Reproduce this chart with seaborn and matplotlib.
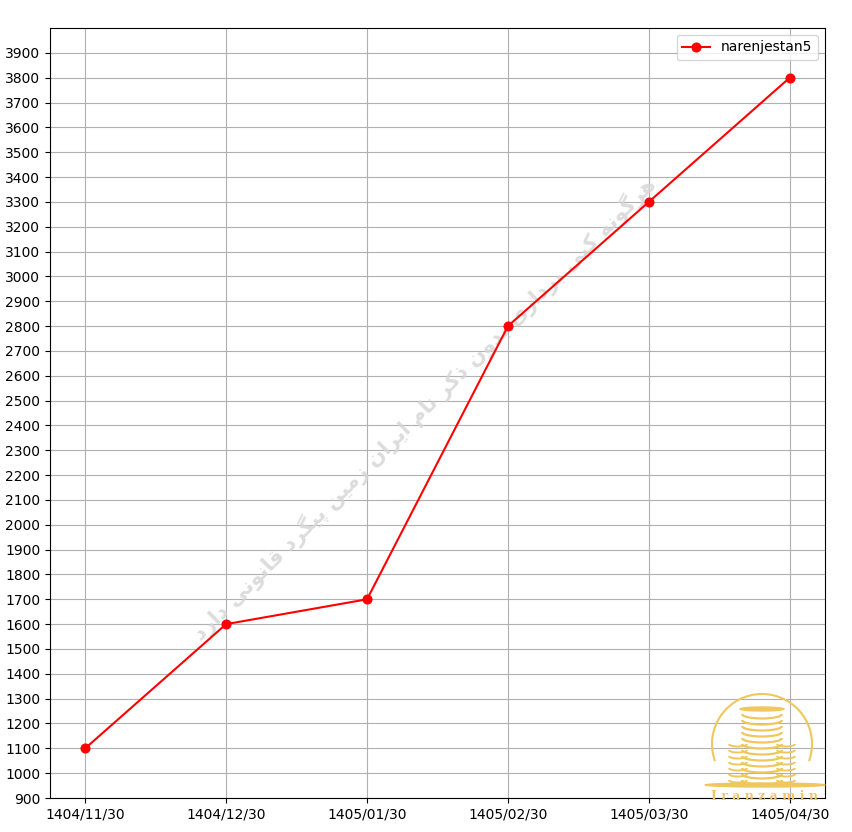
import matplotlib
matplotlib.use("Agg")
import matplotlib.pyplot as plt
import seaborn as sns
import pandas as pd
import numpy as np
from matplotlib.patches import Circle, Arc, Ellipse, Rectangle

dates = ["1404/11/30", "1404/12/30", "1405/01/30", "1405/02/30", "1405/03/30", "1405/04/30"]
prices = [1100, 1600, 1700, 2800, 3300, 3800]
series_name = "narenjestan5"
yticks = list(range(900, 4000, 100))
watermark = "هرگونه کپی برداری بدون ذکر نام ایران زمین پیگرد قانونی دارد"

# --- simple Persian shaping to presentation forms (iso, fin, init, med) ---
FORMS = {
    "ا": ("\uFE8D", "\uFE8E", None, None),
    "ب": ("\uFE8F", "\uFE90", "\uFE91", "\uFE92"),
    "پ": ("\uFB56", "\uFB57", "\uFB58", "\uFB59"),
    "د": ("\uFEA9", "\uFEAA", None, None),
    "ذ": ("\uFEAB", "\uFEAC", None, None),
    "ر": ("\uFEAD", "\uFEAE", None, None),
    "ز": ("\uFEAF", "\uFEB0", None, None),
    "ق": ("\uFED5", "\uFED6", "\uFED7", "\uFED8"),
    "ک": ("\uFB8E", "\uFB8F", "\uFB90", "\uFB91"),
    "گ": ("\uFB92", "\uFB93", "\uFB94", "\uFB95"),
    "م": ("\uFEE1", "\uFEE2", "\uFEE3", "\uFEE4"),
    "ن": ("\uFEE5", "\uFEE6", "\uFEE7", "\uFEE8"),
    "ه": ("\uFEE9", "\uFEEA", "\uFEEB", "\uFEEC"),
    "و": ("\uFEED", "\uFEEE", None, None),
    "ی": ("\uFBFC", "\uFBFD", "\uFBFE", "\uFBFF"),
}


def shape(text):
    out = []
    n = len(text)
    for i, ch in enumerate(text):
        if ch not in FORMS:
            out.append(ch)
            continue
        prev = text[i - 1] if i > 0 else None
        nxt = text[i + 1] if i < n - 1 else None
        join_prev = prev in FORMS and FORMS[prev][2] is not None
        join_next = nxt in FORMS and FORMS[ch][2] is not None
        iso, fin, ini, med = FORMS[ch]
        if join_prev and join_next:
            out.append(med)
        elif join_prev:
            out.append(fin)
        elif join_next:
            out.append(ini)
        else:
            out.append(iso)
    return "".join(out)[::-1]


plt.rcParams["font.family"] = ["DejaVu Sans"]

fig = plt.figure(figsize=(8.53, 8.32), dpi=100)
ax = fig.add_axes([50 / 853, 1 - 798 / 832, 775 / 853, 770 / 832])

df = pd.DataFrame({"date": dates, "price": prices, "series": series_name})
sns.lineplot(data=df, x="date", y="price", color="red", marker="o",
             markersize=6.5, markeredgecolor="red", linewidth=1.5,
             label=series_name, ax=ax, sort=False)

ax.set_ylim(900, 4000)
ax.set_yticks(yticks)
ax.set_xlim(-0.25, 5.25)
ax.set_xlabel("")
ax.set_ylabel("")
ax.grid(True, color="#b0b0b0", linewidth=0.8)
ax.set_axisbelow(True)
ax.tick_params(labelsize=10)
ax.legend(loc="upper right", fontsize=10)

# watermark
ax.text(0.483, 0.505, shape(watermark), transform=ax.transAxes, rotation=45,
        ha="center", va="center", fontsize=15, fontweight="bold",
        color="#d6d6d6", alpha=0.85, zorder=1, family=["DejaVu Sans"])

# logo
lax = fig.add_axes([700 / 853, 1 - 800 / 832, 130 / 853, 110 / 832])
lax.set_xlim(0, 130)
lax.set_ylim(0, 110)
lax.set_aspect("equal")
lax.axis("off")
gold = "#f0c75e"
lax.add_patch(Arc((62, 56), 100, 100, theta1=-20, theta2=200, color=gold, lw=1.5))
for k in range(12):
    y = 20 + k * 6
    lax.add_patch(Arc((62, y), 40, 9, theta1=180, theta2=360, color=gold, lw=1.6))
for k in range(7):
    y = 20 + k * 6
    lax.add_patch(Arc((38, y), 18, 5, theta1=180, theta2=360, color=gold, lw=1.4))
    lax.add_patch(Arc((86, y), 18, 5, theta1=180, theta2=360, color=gold, lw=1.4))
lax.add_patch(Ellipse((62, 91), 44, 4, color=gold))
lax.add_patch(Ellipse((65, 15), 120, 4, color=gold))
lax.text(65, 3, "I r a n z a m i n", ha="center", va="center", fontsize=9,
         color=gold, family="DejaVu Serif", fontweight="bold")

fig.savefig("out.png", dpi=100)
